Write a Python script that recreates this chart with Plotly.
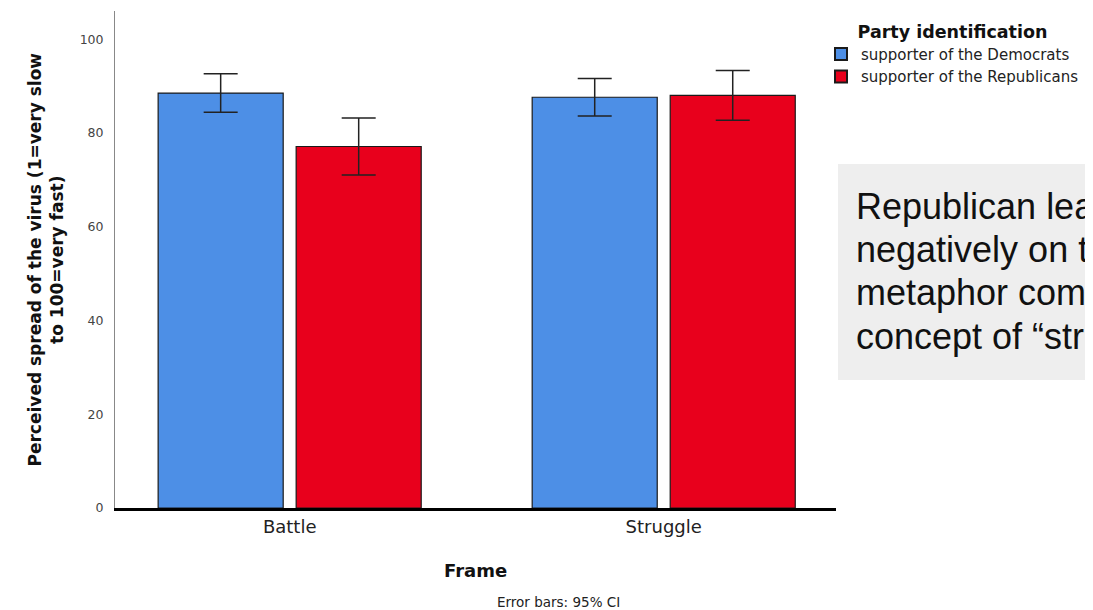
import plotly.graph_objects as go

# ---- data ----
frames = ["Battle", "Struggle"]
dem_means = [88.5, 87.6]
dem_ci = [4.1, 4.0]
rep_means = [77.1, 88.0]
rep_ci = [6.1, 5.3]
series_names = ["supporter of the Democrats", "supporter of the Republicans"]
y_ticks = [0, 20, 40, 60, 80, 100]
note_lines = ["Republican leaners reacted", "negatively on the battle",
              "metaphor compared to the", "concept of \u201cstruggle\u201d"]

W, H = 1093, 610
L, R, T, B = 107, 265, 3, 110
PW, PH = W - L - R, H - T - B


def px_x(p):
    return (p - L) / PW


def px_y(p):
    return (H - B - p) / PH


FONT = "DejaVu Sans"
BLUE = "#4D8FE6"
RED = "#E8001C"

fig = go.Figure()
fig.add_trace(go.Bar(
    x=frames, y=dem_means, name=series_names[0],
    marker=dict(color=BLUE, line=dict(color="#1a1a1a", width=1.2)),
    error_y=dict(type="data", array=dem_ci, color="#222222", thickness=1.5, width=17),
))
fig.add_trace(go.Bar(
    x=frames, y=rep_means, name=series_names[1],
    marker=dict(color=RED, line=dict(color="#1a1a1a", width=1.2)),
    error_y=dict(type="data", array=rep_ci, color="#222222", thickness=1.5, width=17),
))

fig.update_layout(
    width=W, height=H,
    margin=dict(l=L, r=R, t=T, b=B, autoexpand=False),
    paper_bgcolor="white", plot_bgcolor="white",
    barmode="group", bargap=0.262, bargroupgap=0.094,
    font=dict(family=FONT, color="#222222"),
    showlegend=True,
    legend=dict(
        x=px_x(813), y=px_y(7), xanchor="left", yanchor="top",
        font=dict(family=FONT, size=15, color="#222222"),
        title=dict(text="<b>Party identification</b>", side="top center",
                   font=dict(family=FONT, size=17.5, color="#111111")),
        bgcolor="rgba(0,0,0,0)", tracegroupgap=0, itemsizing="constant",
    ),
)

fig.update_xaxes(
    range=[-0.467, 1.4606], type="category",
    showline=True, linecolor="black", linewidth=3,
    showgrid=False, zeroline=False, ticks="",
    tickfont=dict(family=FONT, size=18, color="#222222"),
)
fig.update_yaxes(
    range=[0, 106], tickvals=y_ticks,
    showline=True, linecolor="#888888", linewidth=1,
    showgrid=False, zeroline=False,
    ticks="outside", ticklen=8, tickcolor="rgba(0,0,0,0)",
    tickfont=dict(family=FONT, size=12.5, color="#444444"),
)

# grey note box
fig.add_shape(type="rect", xref="paper", yref="paper",
              x0=px_x(830), x1=px_x(1110), y0=px_y(372), y1=px_y(156),
              fillcolor="#EEEEEE", line=dict(width=0), layer="below")

annotations = [
    dict(text="<b>Perceived spread of the virus (1=very slow<br>to 100=very fast)</b>",
         x=px_x(37), y=0.5, xref="paper", yref="paper", textangle=-90,
         showarrow=False, xanchor="center", yanchor="middle",
         font=dict(family=FONT, size=17, color="#111111")),
    dict(text="<b>Frame</b>", x=0.5, y=px_y(562), xref="paper", yref="paper",
         showarrow=False, xanchor="center", yanchor="middle",
         font=dict(family=FONT, size=18, color="#111111")),
    dict(text="Error bars: 95% CI", x=px_x(550), y=px_y(594), xref="paper", yref="paper",
         showarrow=False, xanchor="center", yanchor="middle",
         font=dict(family=FONT, size=13.5, color="#222222")),
]
baselines = [210, 253, 297, 340]
for line, bl in zip(note_lines, baselines):
    annotations.append(dict(
        text=line, x=px_x(846), y=px_y(bl - 12), xref="paper", yref="paper",
        showarrow=False, xanchor="left", yanchor="middle",
        font=dict(family="Arial, Liberation Sans", size=36, color="#111111")))
fig.update_layout(annotations=annotations)

fig.write_html("out.html")
